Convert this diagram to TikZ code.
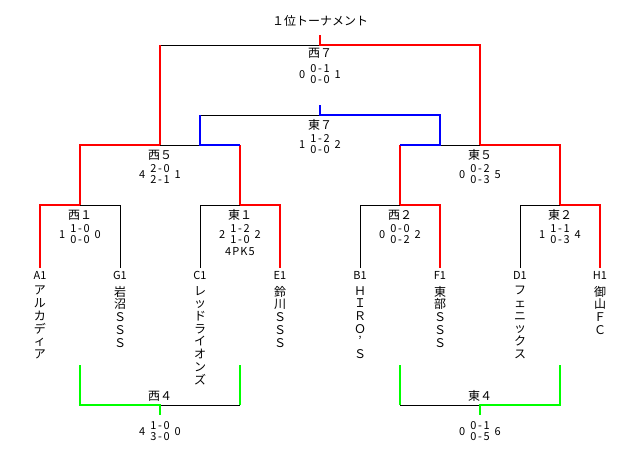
\documentclass[tikz,border=0pt]{standalone}
\usepackage{fontspec}
\setmainfont{Noto Sans CJK JP}
\usetikzlibrary{calc}
\tikzset{
    winline/.style = {draw, red, line width=1.6pt},
    loseline/.style = {draw, black, line width=0.8pt},
    thirdline/.style = {draw, blue, line width=1.6pt},
    placeline/.style = {draw, green, line width=1.6pt},
    code/.style = {inner ysep=3pt, inner xsep=0pt, font=\fontsize{11}{11}\selectfont},
    team/.style = {inner sep=0pt, align=center, font=\fontsize{12}{12.7}\selectfont},
    match/.style = {inner sep=0pt, font=\fontsize{12}{12}\selectfont},
    score/.style = {inner sep=0pt, font=\fontsize{11}{11}\selectfont}
}
\newcommand{\scoreline}[4]{#1\hspace{5pt}{\addfontfeature{LetterSpace=15}\begin{tabular}{@{}c@{}}#2\\#3\end{tabular}}\hspace{5pt}#4}

\begin{document}
\begin{tikzpicture}[x=1pt, y=-1pt]
        \useasboundingbox (0,0) rectangle (640,450);
        \node[match] (title) at (320,21) {１位トーナメント};

        % teams
        \node[code] (A1) at (40,275) {A1};
        \node[code] (G1) at (120,275) {G1};
        \node[code] (C1) at (200,275) {C1};
        \node[code] (E1) at (280,275) {E1};
        \node[code] (B1) at (360,275) {B1};
        \node[code] (F1) at (440,275) {F1};
        \node[code] (D1) at (520,275) {D1};
        \node[code] (H1) at (600,275) {H1};
        \node[team, anchor=north] (nA1) at (40,286) {ア\\ル\\カ\\デ\\ィ\\ア};
        \node[team, anchor=north] (nG1) at (120,286) {岩\\沼\\Ｓ\\Ｓ\\Ｓ};
        \node[team, anchor=north] (nC1) at (200,286) {レ\\ッ\\ド\\ラ\\イ\\オ\\ン\\ズ};
        \node[team, anchor=north] (nE1) at (280,286) {鈴\\川\\Ｓ\\Ｓ\\Ｓ};
        \node[team, anchor=north] (nB1) at (360,286) {Ｈ\\Ｉ\\Ｒ\\Ｏ\\’\\Ｓ};
        \node[team, anchor=north] (nF1) at (440,286) {東\\部\\Ｓ\\Ｓ\\Ｓ};
        \node[team, anchor=north] (nD1) at (520,286) {フ\\ェ\\ニ\\ッ\\ク\\ス};
        \node[team, anchor=north] (nH1) at (600,286) {御\\山\\Ｆ\\Ｃ};

        % bracket points
        \coordinate (w1) at (80,205);
        \coordinate (e1) at (240,205);
        \coordinate (w2) at (400,205);
        \coordinate (e2) at (560,205);
        \coordinate (w5) at (160,145);
        \coordinate (e5) at (480,145);
        \coordinate (e7) at (320,115);
        \coordinate (e7l) at (200,115);
        \coordinate (e7r) at (440,115);
        \coordinate (e7t) at (320,105);
        \coordinate (w7) at (320,45);
        \coordinate (w7t) at (320,35);
        \coordinate (w4) at (160,405);
        \coordinate (w4l) at (80,365);
        \coordinate (w4r) at (240,365);
        \coordinate (w4b) at (160,415);
        \coordinate (e4) at (480,405);
        \coordinate (e4l) at (400,365);
        \coordinate (e4r) at (560,365);
        \coordinate (e4b) at (480,415);

        % match labels and results
        \node[match] (lw7) at (320,53) {西７};
        \node[score] (sw7) at (320,76) {\scoreline{0}{0-1}{0-0}{1}};
        \node[match] (le7) at (320,125) {東７};
        \node[score] (se7) at (320,146) {\scoreline{1}{1-2}{0-0}{2}};
        \node[match] (lw5) at (160,155) {西５};
        \node[score] (sw5) at (160,176) {\scoreline{4}{2-0}{2-1}{1}};
        \node[match] (le5) at (480,155) {東５};
        \node[score] (se5) at (480,176) {\scoreline{0}{0-2}{0-3}{5}};
        \node[match] (lw1) at (80,215) {西１};
        \node[score] (sw1) at (80,236) {\scoreline{1}{1-0}{0-0}{0}};
        \node[match] (le1) at (240,215) {東１};
        \node[score] (se1) at (240,236) {\scoreline{2}{1-2}{1-0}{2}};
        \node[score] (pk1) at (240,252) {\addfontfeature{LetterSpace=10}4PK5};
        \node[match] (lw2) at (400,215) {西２};
        \node[score] (sw2) at (400,236) {\scoreline{0}{0-0}{0-2}{2}};
        \node[match] (le2) at (560,215) {東２};
        \node[score] (se2) at (560,236) {\scoreline{1}{1-1}{0-3}{4}};
        \node[match] (lw4) at (160,396) {西４};
        \node[score] (sw4) at (160,433) {\scoreline{4}{1-0}{3-0}{0}};
        \node[match] (le4) at (480,396) {東４};
        \node[score] (se4) at (480,433) {\scoreline{0}{0-1}{0-5}{6}};

        % losing sides
        \draw[loseline] (G1.north) |- (w1);
        \draw[loseline] (C1.north) |- (e1);
        \draw[loseline] (B1.north) |- (w2);
        \draw[loseline] (D1.north) |- (e2);
        \draw[loseline] (e1 |- w5) -- (w5);
        \draw[loseline] (w2 |- e5) -- (e5);
        \draw[loseline] (w5 |- w7) -- (w7);
        \draw[loseline] (e7l) -- (e7);
        \draw[loseline] (w4r |- w4) -- (w4);
        \draw[loseline] (e4l |- e4) -- (e4);

        % winning sides
        \draw[winline] (A1.north) |- (w1);
        \draw[winline] (E1.north) |- (e1);
        \draw[winline] (F1.north) |- (w2);
        \draw[winline] (H1.north) |- (e2);
        \draw[winline] (w1) |- (w5);
        \draw[winline] (e2) |- (e5);
        \draw[winline] (e1) -- (e1 |- w5);
        \draw[winline] (w2) -- (w2 |- e5);
        \draw[winline] (w5) -- (w5 |- w7);
        \draw[winline] (e5) |- (w7) -- (w7t);

        % third place
        \draw[thirdline] (e1 |- w5) -| (e7l);
        \draw[thirdline] (w2 |- e5) -| (e7r) -- (e7) -- (e7t);

        % lower matches
        \draw[placeline] (w4l) |- (w4) -- (w4b);
        \draw[placeline] (w4r) -- (w4r |- w4);
        \draw[placeline] (e4r) |- (e4) -- (e4b);
        \draw[placeline] (e4l) -- (e4l |- e4);
    \end{tikzpicture}
\end{document}
